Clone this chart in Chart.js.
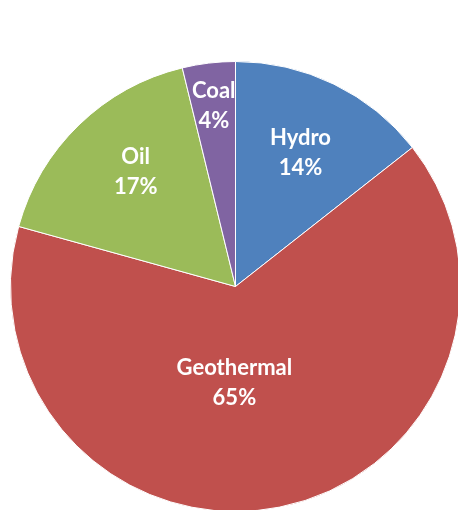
<!DOCTYPE html>
<html>
<head>
<meta charset="utf-8">
<script src="https://cdn.jsdelivr.net/npm/chart.js@4/dist/chart.umd.min.js"></script>
<style>
  html, body { margin: 0; padding: 0; background: #fff; overflow: hidden; }
  body { width: 458px; height: 510px; position: relative; }
  #wrap { position: absolute; left: 10px; top: 61px; width: 451px; height: 451px; }
</style>
</head>
<body>
<div id="wrap"><canvas id="pie"></canvas></div>
<script>
// Energy sources share (%), labels show rounded values
const categories = ['Hydro', 'Geothermal', 'Oil', 'Coal'];
const shares = [14.4, 64.9, 16.9, 3.8];
const colors = ['#4F81BD', '#C0504D', '#9BBB59', '#8064A2'];

// label placement inside each slice (fraction of radius, extra angle in degrees)
const labelRadius = [0.66, 0.43, 0.675, 0.81];
const labelShift = [0, 12, 3, 0];

const sliceLabels = {
  id: 'sliceLabels',
  afterDatasetsDraw(chart) {
    const ctx = chart.ctx;
    const arcs = chart.getDatasetMeta(0).data;
    ctx.save();
    ctx.fillStyle = '#fff';
    ctx.font = 'bold 22px Lato';
    ctx.textAlign = 'center';
    ctx.textBaseline = 'middle';
    arcs.forEach((arc, i) => {
      const mid = (arc.startAngle + arc.endAngle) / 2 + labelShift[i] * Math.PI / 180;
      const r = arc.outerRadius * labelRadius[i];
      const x = arc.x + Math.cos(mid) * r;
      const y = arc.y + Math.sin(mid) * r;
      ctx.fillText(categories[i], x, y - 15);
      ctx.fillText(Math.round(shares[i]) + '%', x, y + 15);
    });
    ctx.restore();
  }
};

new Chart(document.getElementById('pie'), {
  type: 'pie',
  data: {
    labels: categories,
    datasets: [{
      data: shares,
      backgroundColor: colors,
      borderColor: '#ffffff',
      borderWidth: 1
    }]
  },
  options: {
    responsive: true,
    maintainAspectRatio: false,
    animation: false,
    layout: { padding: 0 },
    plugins: {
      legend: { display: false },
      tooltip: { enabled: false }
    }
  },
  plugins: [sliceLabels]
});
</script>
</body>
</html>
